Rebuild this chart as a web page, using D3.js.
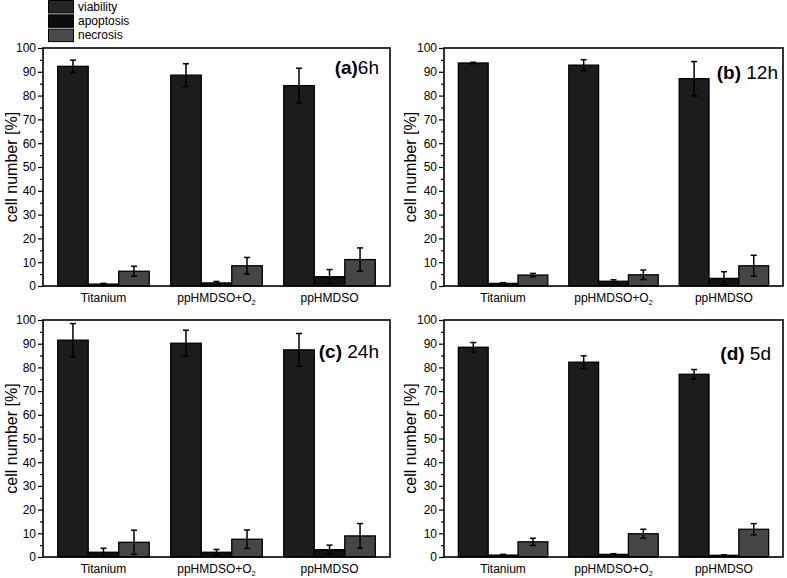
<!DOCTYPE html>
<html><head><meta charset="utf-8">
<script src="https://cdn.jsdelivr.net/npm/d3@7/dist/d3.min.js"></script>
<style>
html,body{margin:0;padding:0;background:#fff;}
svg{display:block;font-family:"Liberation Sans",Arial,sans-serif;}
</style></head>
<body>
<svg id="chart" width="787" height="578"></svg>
<script>
// ---- data ----
const categories = ["Titanium", "ppHMDSO+O2", "ppHMDSO"];
const seriesNames = ["viability", "apoptosis", "necrosis"];
const panelLetters = ["(a)", "(b)", "(c)", "(d)"];
const panelTimes = ["6h", "12h", "24h", "5d"];
const yTicks = [0, 10, 20, 30, 40, 50, 60, 70, 80, 90, 100];
const yMinorTicks = [5, 15, 25, 35, 45, 55, 65, 75, 85, 95];

const viability    = [[92.3, 88.6, 84.2], [93.7, 92.8, 87.1], [91.5, 90.2, 87.4], [88.5, 82.2, 77.1]];
const viabilityErr = [[2.6, 4.8, 7.3],    [0.3, 2.3, 7.2],    [7.0, 5.5, 6.9],    [2.0, 2.7, 2.0]];
const apoptosis    = [[0.8, 1.3, 3.9],    [1.1, 2.0, 3.2],    [2.0, 2.0, 3.1],    [0.8, 1.1, 0.7]];
const apoptosisErr = [[0.3, 0.6, 3.0],    [0.3, 0.6, 2.8],    [1.7, 1.2, 1.9],    [0.3, 0.3, 0.2]];
const necrosis     = [[6.2, 8.5, 11.1],   [4.6, 4.7, 8.5],    [6.2, 7.5, 8.9],    [6.4, 9.8, 11.7]];
const necrosisErr  = [[2.1, 3.5, 4.9],    [0.7, 2.0, 4.4],    [5.1, 3.9, 5.2],    [1.5, 1.9, 2.4]];

// ---- styling / layout ----
const colors = {viability: "#1c1c1c", apoptosis: "#111111", necrosis: "#464646"};
const legendColors = {viability: "#262626", apoptosis: "#0c0c0c", necrosis: "#4b4b4b"};
const layouts = [
  {x0: 43,  x1: 390, y0: 48,  y1: 286, labX: 379, labY: 74,  ylabX: 17},
  {x0: 444, x1: 783, y0: 48,  y1: 286, labX: 778, labY: 79,  ylabX: 416},
  {x0: 43,  x1: 390, y0: 320, y1: 557, labX: 379, labY: 358, ylabX: 17},
  {x0: 444, x1: 783, y0: 320, y1: 557, labX: 771, labY: 360, ylabX: 416}
];

const svg = d3.select("#chart");
const values = [viability, apoptosis, necrosis];
const errors = [viabilityErr, apoptosisErr, necrosisErr];

layouts.forEach((L, p) => {
  const g = svg.append("g");
  const x = d3.scaleBand().domain(categories).range([L.x0, L.x1]).paddingInner(0.19).paddingOuter(0.13);
  const xs = d3.scaleBand().domain(seriesNames).range([0, x.bandwidth()]);
  const y = d3.scaleLinear().domain([0, 100]).range([L.y1, L.y0]);

  const rows = [];
  categories.forEach((c, i) => {
    seriesNames.forEach((s, k) => {
      rows.push({cat: c, s: s, v: values[k][p][i], e: errors[k][p][i]});
    });
  });

  // bars
  g.selectAll("rect.bar").data(rows).join("rect")
    .attr("class", "bar")
    .attr("x", d => x(d.cat) + xs(d.s))
    .attr("y", d => y(d.v))
    .attr("width", xs.bandwidth())
    .attr("height", d => y(0) - y(d.v))
    .attr("fill", d => colors[d.s])
    .attr("stroke", "#000").attr("stroke-width", 1.3);

  // error bars
  const cap = 3;
  const cx = d => x(d.cat) + xs(d.s) + xs.bandwidth() / 2;
  const eb = g.selectAll("g.err").data(rows).join("g").attr("class", "err")
    .attr("stroke", "#000").attr("stroke-width", 1.5);
  eb.append("line")
    .attr("x1", cx).attr("x2", cx)
    .attr("y1", d => y(d.v + d.e)).attr("y2", d => y(Math.max(0, d.v - d.e)));
  eb.append("line")
    .attr("x1", d => cx(d) - cap).attr("x2", d => cx(d) + cap)
    .attr("y1", d => y(d.v + d.e)).attr("y2", d => y(d.v + d.e));
  eb.filter(d => d.v - d.e > 0).append("line")
    .attr("x1", d => cx(d) - cap).attr("x2", d => cx(d) + cap)
    .attr("y1", d => y(d.v - d.e)).attr("y2", d => y(d.v - d.e));

  // y axis major
  const ya = g.append("g").attr("transform", `translate(${L.x0},0)`)
    .call(d3.axisLeft(y).tickValues(yTicks).tickSize(5).tickPadding(2).tickFormat(d3.format("d")));
  ya.select(".domain").remove();
  ya.selectAll(".tick line").attr("stroke", "#000").attr("stroke-width", 1.2);
  ya.selectAll(".tick text").attr("font-size", 12).attr("fill", "#000")
    .attr("font-family", "Liberation Sans, Arial, sans-serif");
  const ym = g.append("g").attr("transform", `translate(${L.x0},0)`)
    .call(d3.axisLeft(y).tickValues(yMinorTicks).tickSize(3).tickFormat(""));
  ym.select(".domain").remove();
  ym.selectAll(".tick line").attr("stroke", "#000").attr("stroke-width", 1.2);

  // frame
  g.append("rect").attr("x", L.x0).attr("y", L.y0)
    .attr("width", L.x1 - L.x0).attr("height", L.y1 - L.y0)
    .attr("fill", "none").attr("stroke", "#000").attr("stroke-width", 1.6);

  // category labels
  const cl = g.selectAll("text.cat").data(categories).join("text")
    .attr("class", "cat")
    .attr("x", d => x(d) + x.bandwidth() / 2)
    .attr("y", L.y1 + 16)
    .attr("text-anchor", "middle").attr("font-size", 12).attr("fill", "#000");
  cl.each(function(d) {
    const t = d3.select(this);
    const m = d.match(/^(.*O)(2)$/);
    if (m) {
      t.append("tspan").text(m[1]);
      t.append("tspan").text(m[2]).attr("font-size", 7.5).attr("dy", 3);
    } else {
      t.text(d);
    }
  });

  // y label
  g.append("text")
    .attr("transform", `translate(${L.ylabX},${(L.y0 + L.y1) / 2}) rotate(-90)`)
    .attr("text-anchor", "middle").attr("font-size", 16).attr("fill", "#000")
    .text("cell number [%]");

  // panel label
  const pl = g.append("text").attr("x", L.labX).attr("y", L.labY)
    .attr("text-anchor", "end").attr("font-size", 19).attr("fill", "#000");
  pl.append("tspan").attr("font-weight", "bold").text(panelLetters[p]);
  pl.append("tspan").text((p === 0 ? "" : " ") + panelTimes[p]);
});

// legend
const lg = svg.append("g");
seriesNames.forEach((s, i) => {
  lg.append("rect").attr("x", 48.5).attr("y", 0.5 + i * 14.3).attr("width", 25).attr("height", 12.5)
    .attr("fill", legendColors[s]).attr("stroke", "#000").attr("stroke-width", 1);
  lg.append("text").attr("x", 78).attr("y", 10.5 + i * 14.3)
    .attr("font-size", 12).attr("fill", "#000").text(s);
});
</script>
</body></html>
